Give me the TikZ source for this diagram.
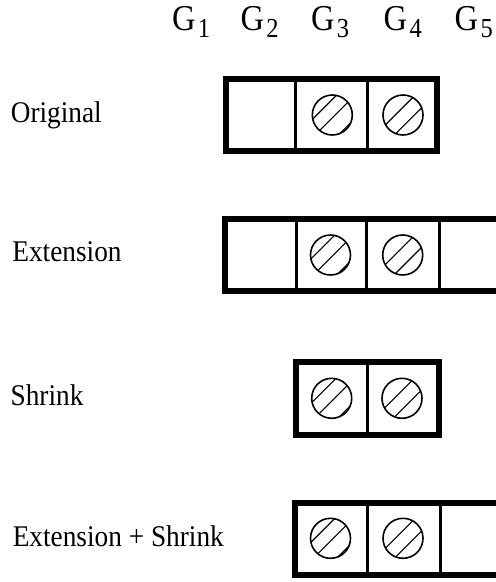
\documentclass[tikz,border=0pt]{standalone}
\usepackage{fontspec}
\setmainfont{Liberation Serif}

% Column label G with a subscript index
\newcommand\glab[1]{\scalebox{1}[1.12]{\fontsize{32.5}{33}\selectfont G\kern2.5pt\raisebox{-6.4pt}{\fontsize{24.5}{25}\selectfont #1}}}
% Row caption
\newcommand\rowcap[1]{\scalebox{1}[1.1]{\fontsize{27.3}{30}\selectfont #1}}

% A framed strip of cells: left, right, top, bottom outer edges, list of inner divider positions
\newcommand\cellstrip[5]{%
  \draw[frame] ({#1+3},{#3+3}) rectangle ({#2-3},{#4-3});
  \foreach \dx in {#5} \draw[divider] (\dx,{#3+3}) -- (\dx,{#4-3});
}
% Hatched disc: centre x, centre y, list of hatch offsets
\newcommand\hatchdisc[3]{%
  \begin{scope}[shift={(#1,#2)}]
    \begin{scope}
      \clip (0,0) circle (20);
      \foreach \d in {#3}
        \draw[hatchline] ({\d*0.7071-26},{\d*0.7071+26}) -- ++(52,-52);
    \end{scope}
    \draw[disc] (0,0) circle (20);
  \end{scope}
}

\begin{document}
\begin{tikzpicture}[x=1pt,y=-1pt,
  frame/.style={line width=6pt},
  divider/.style={line width=3pt},
  disc/.style={line width=1.6pt},
  hatchline/.style={line width=1.1pt},
  caption/.style={anchor=base west, inner sep=0pt, outer sep=0pt}]
\useasboundingbox (0,0) rectangle (496,582);
\clip (0,0) rectangle (496,582);

% column headings
\node[caption] (g1) at (172.0,30.3) {\glab{1}};
\node[caption] (g2) at (240.5,30.3) {\glab{2}};
\node[caption] (g3) at (311.0,30.3) {\glab{3}};
\node[caption] (g4) at (383.7,30.3) {\glab{4}};
\node[caption] (g5) at (454.7,30.3) {\glab{5}};

% row captions
\node[caption] (original) at (10.8,122.3) {\rowcap{Original}};
\node[caption] (extension) at (12.4,261.7) {\rowcap{Extension}};
\node[caption] (shrink) at (10.6,405.0) {\rowcap{Shrink}};
\node[caption] (extshrink) at (12.8,546.0) {\rowcap{Extension + Shrink}};

% Original: G2 G3 G4
\cellstrip{223.3}{440}{76}{154}{295.3,367.3}
\hatchdisc{332.3}{115}{-11,2,18.5}
\hatchdisc{403}{115}{-5.5,8}

% Extension: G2 G3 G4 G5
\cellstrip{222}{512}{216}{294}{296,366.7,439}
\hatchdisc{330.5}{255}{-11,2,18.5}
\hatchdisc{402.7}{255}{-5.5,8}

% Shrink: G3 G4
\cellstrip{292.7}{442.3}{359}{437.7}{367.3}
\hatchdisc{331.7}{398.3}{-11,2,18.5}
\hatchdisc{402}{398.3}{-5.5,8}

% Extension + Shrink: G3 G4 G5
\cellstrip{291.7}{512}{500}{578}{367,440}
\hatchdisc{330.5}{538.3}{-11,2,18.5}
\hatchdisc{403}{538.3}{-5.5,8}
\end{tikzpicture}
\end{document}
